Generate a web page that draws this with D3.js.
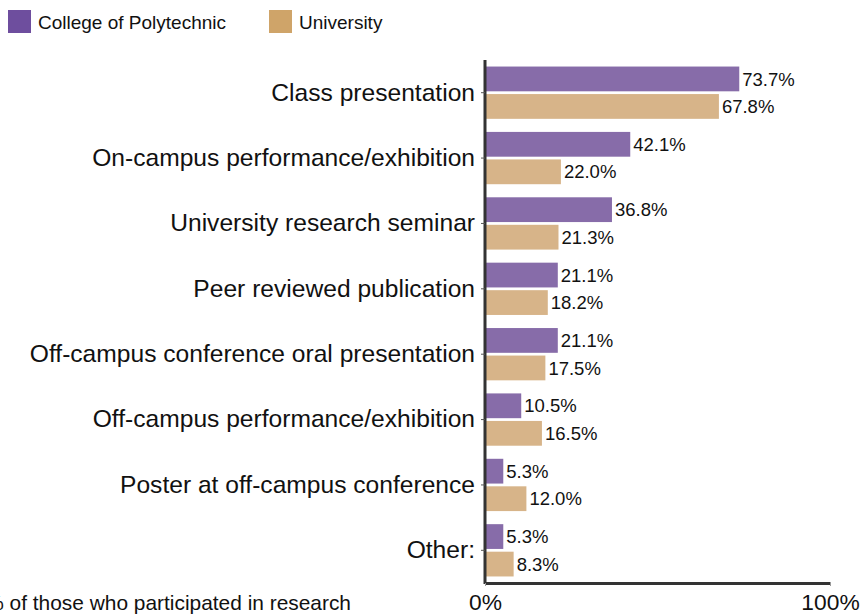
<!DOCTYPE html>
<html>
<head>
<meta charset="utf-8">
<script src="https://cdn.jsdelivr.net/npm/d3@7"></script>
<style>
body{margin:0;background:#fff;}
svg{display:block;font-family:"Liberation Sans",Arial,sans-serif;}
</style>
</head>
<body>
<svg id="chart"></svg>
<script>
var categories = ["Class presentation","On-campus performance/exhibition","University research seminar","Peer reviewed publication","Off-campus conference oral presentation","Off-campus performance/exhibition","Poster at off-campus conference","Other:"];
var series = ["College of Polytechnic","University"];
var polytechnic = [73.7,42.1,36.8,21.1,21.1,10.5,5.3,5.3];
var university = [67.8,22.0,21.3,18.2,17.5,16.5,12.0,8.3];
var tickLabels = ["0%","100%"];
var axisTitle = "% of those who participated in research";

var width=863, height=615;
var barColors = ["#876ca9","#d7b489"];
var legendColors = ["#6e4e9e","#cfa469"];

var svg = d3.select("#chart").attr("width",width).attr("height",height);

var x = d3.scaleLinear().domain([0,100]).range([485,830]);
var y = d3.scaleBand().domain(categories).range([60,583]).paddingInner(0.2).paddingOuter(0.1);
var y1 = d3.scaleBand().domain(series).range([0,y.bandwidth()]).paddingInner(0.1);

var rows = categories.map(function(c,i){
    return {cat:c, vals:[{s:series[0],v:polytechnic[i]},{s:series[1],v:university[i]}]};
});

var g = svg.selectAll(".grp").data(rows).enter().append("g")
    .attr("class","grp")
    .attr("transform",function(d){return "translate(0,"+y(d.cat)+")";});

g.selectAll("rect").data(function(d){return d.vals;}).enter().append("rect")
    .attr("x",x(0))
    .attr("y",function(d){return y1(d.s);})
    .attr("width",function(d){return x(d.v)-x(0);})
    .attr("height",y1.bandwidth())
    .attr("fill",function(d,i){return barColors[i];});

g.selectAll("text.val").data(function(d){return d.vals;}).enter().append("text")
    .attr("class","val")
    .attr("x",function(d){return x(d.v)+3;})
    .attr("y",function(d){return y1(d.s)+y1.bandwidth()/2;})
    .attr("dy","0.36em")
    .attr("font-size",18.5)
    .attr("fill","#111")
    .text(function(d){return d.v.toFixed(1)+"%";});

// y axis
var yAxis = svg.append("g")
    .attr("transform","translate("+x(0)+",0)")
    .call(d3.axisLeft(y).tickSize(4).tickPadding(6));
yAxis.select(".domain").attr("stroke","#333").attr("stroke-width",3).attr("d","M0,60V584");
yAxis.selectAll(".tick line").attr("stroke","#555");
yAxis.selectAll(".tick text").attr("font-size",24.6).attr("fill","#111").attr("font-family","Liberation Sans, Arial, sans-serif");

// x axis
var xAxis = svg.append("g")
    .attr("transform","translate(0,583)")
    .call(d3.axisBottom(x).tickValues([0,100]).tickFormat(function(d,i){return tickLabels[i];}).tickSize(3).tickSizeOuter(0).tickPadding(6));
xAxis.select(".domain").attr("stroke","#333").attr("stroke-width",3);
xAxis.selectAll(".tick line").attr("stroke","#999");
xAxis.selectAll(".tick text").attr("font-size",22.8).attr("fill","#111").attr("font-family","Liberation Sans, Arial, sans-serif")
    .attr("y",11).attr("dy","0.71em");

// title sits partly off the left edge, as in the source image
svg.append("text")
    .attr("x",351).attr("y",610)
    .attr("text-anchor","end")
    .attr("font-size",20.9)
    .attr("fill","#111")
    .text(axisTitle);

// legend
var legX=[8,269];
var leg = svg.selectAll(".leg").data(series).enter().append("g")
    .attr("class","leg")
    .attr("transform",function(d,i){return "translate("+legX[i]+",10)";});
leg.append("rect").attr("width",23).attr("height",23)
    .attr("fill",function(d,i){return legendColors[i];});
leg.append("text").attr("x",30).attr("y",12).attr("dy","0.36em")
    .attr("font-size",19).attr("fill","#111")
    .text(function(d){return d;});
</script>
</body>
</html>
